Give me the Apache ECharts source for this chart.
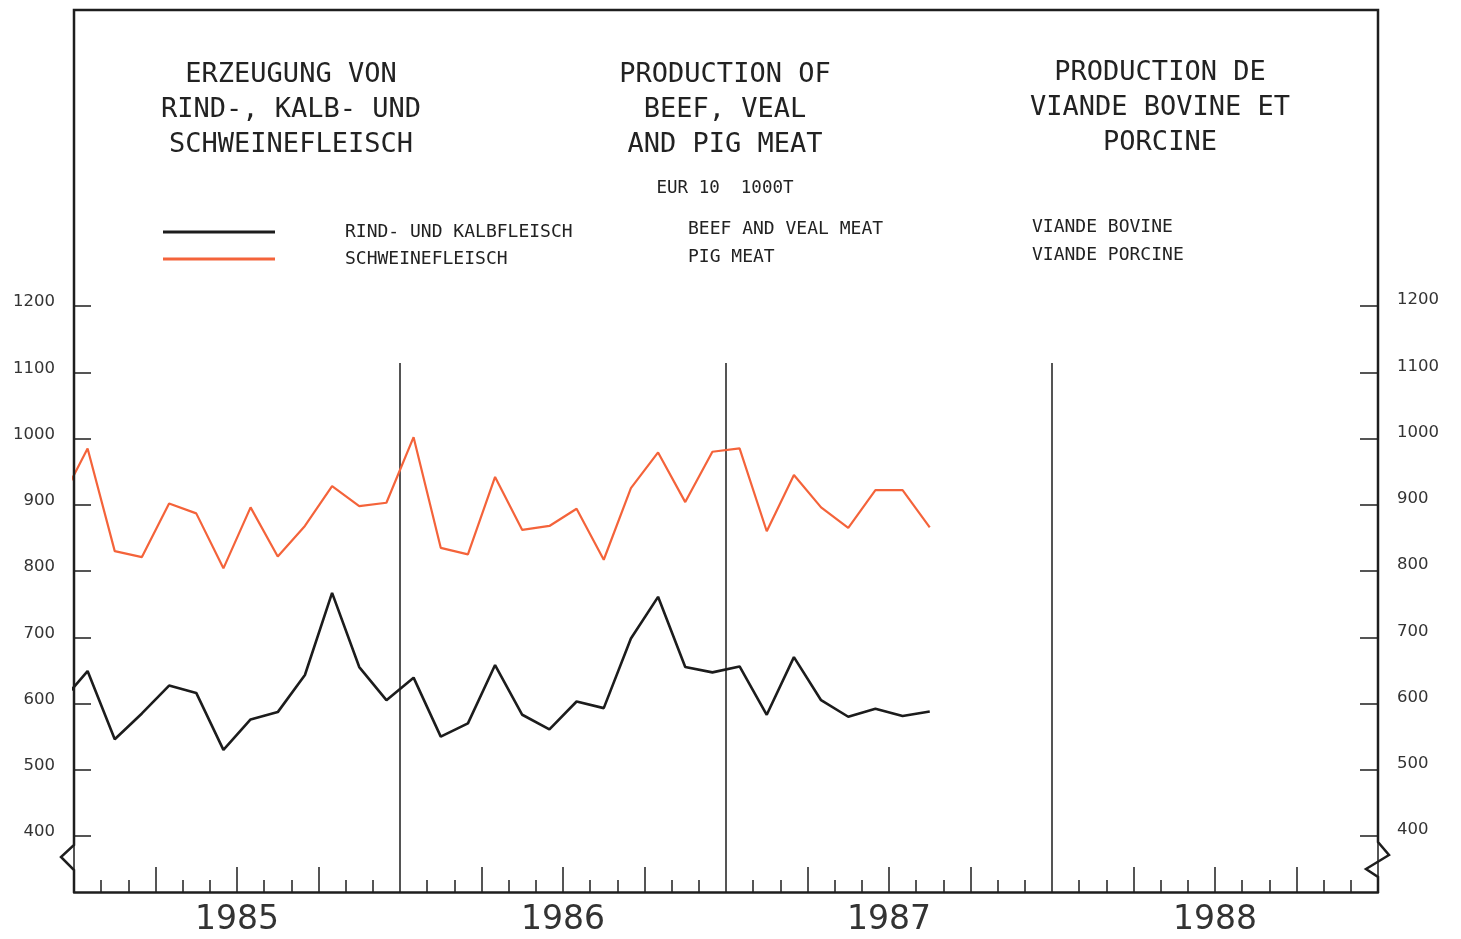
<!DOCTYPE html>
<html><head><meta charset="utf-8">
<script src="https://cdn.jsdelivr.net/npm/echarts@6/dist/echarts.min.js"></script>
<style>html,body{margin:0;padding:0;background:#fff}#c{width:1461px;height:939px}</style>
</head><body><div id="c"></div>
<script>
// Tick labels / categories
const years = ['1985', '1986', '1987', '1988'];
const yMin = 400, yMax = 1200, yStep = 100;
// Months counted from January 1985 (index 0); -1 = December 1984
const monthIndex = [-1, 0, 1, 2, 3, 4, 5, 6, 7, 8, 9, 10, 11,
  12, 13, 14, 15, 16, 17, 18, 19, 20, 21, 22, 23,
  24, 25, 26, 27, 28, 29, 30, 31];
// Series values (1000 t), EUR 10
const beef = [601, 649, 546, 585, 627, 616, 530, 576, 587, 643, 767, 655, 605,
  639, 550, 570, 658, 583, 561, 603, 593, 698, 761, 655, 647,
  656, 583, 670, 605, 580, 592, 581, 588];
const pig = [905, 985, 830, 821, 902, 887, 804, 896, 822, 868, 928, 898, 903,
  1002, 835, 825, 942, 862, 868, 894, 817, 925, 979, 904, 980,
  985, 860, 945, 896, 865, 922, 922, 866];

const MONO = 'DejaVu Sans Mono';
const INK = '#1e1e1e';
const chart = echarts.init(document.getElementById('c'));

const xBase = { type: 'value', min: 0, max: 48, gridIndex: 0, position: 'bottom',
  axisLabel: { show: false }, splitLine: { show: false }, axisLine: { show: false } };
const yLabel = (lh) => ({ margin: 19, fontFamily: 'DejaVu Sans', fontSize: 16.5, color: '#333',
  verticalAlign: 'bottom', lineHeight: lh, formatter: (v) => String(v) });

chart.setOption({
  backgroundColor: '#ffffff',
  animation: false,
  grid: [
    { left: 74, right: 83, top: 10, bottom: 47, containLabel: false },
    { left: 74, right: 83, top: 306, bottom: 103, containLabel: false }
  ],
  legend: {
    orient: 'vertical', left: 163, top: 222, itemWidth: 112, itemHeight: 3, itemGap: 7,
    icon: 'rect', padding: 0,
    textStyle: { fontFamily: MONO, fontSize: 18, color: '#222', lineHeight: 20, padding: [0, 0, 0, 65] },
    data: ['RIND- UND KALBFLEISCH', 'SCHWEINEFLEISCH']
  },
  xAxis: [
    Object.assign({}, xBase, { interval: 1, axisLine: { show: true, lineStyle: { color: INK, width: 2.5 } },
      axisTick: { show: true, inside: true, length: 12, lineStyle: { color: INK, width: 1.5 } } }),
    Object.assign({}, xBase, { interval: 3,
      axisTick: { show: true, inside: true, length: 25, lineStyle: { color: INK, width: 1.5 } } }),
    Object.assign({}, xBase, { interval: 12,
      axisTick: { show: true, inside: true, length: 529, lineStyle: { color: INK, width: 1.5 } } }),
    { type: 'category', data: years, boundaryGap: true, gridIndex: 0, position: 'bottom',
      axisLine: { show: false }, axisTick: { show: false }, splitLine: { show: false },
      axisLabel: { fontFamily: 'DejaVu Sans', fontSize: 33, color: '#333', margin: 12 } },
    Object.assign({}, xBase, { gridIndex: 1, axisTick: { show: false } })
  ],
  yAxis: [
    { type: 'value', gridIndex: 0, min: 0, max: 1, show: false },
    { type: 'value', gridIndex: 1, position: 'left', min: yMin, max: yMax, interval: yStep,
      axisLine: { show: false }, splitLine: { show: false },
      axisTick: { show: true, inside: true, length: 17, lineStyle: { color: INK, width: 1.5 } },
      axisLabel: yLabel(8) },
    { type: 'value', gridIndex: 1, position: 'right', min: yMin, max: yMax, interval: yStep,
      axisLine: { show: false }, splitLine: { show: false },
      axisTick: { show: true, inside: true, length: 18, lineStyle: { color: INK, width: 1.5 } },
      axisLabel: yLabel(12) }
  ],
  series: [
    { name: 'RIND- UND KALBFLEISCH', type: 'line', xAxisIndex: 4, yAxisIndex: 1, clip: true,
      showSymbol: false, symbol: 'none', color: '#1c1c1c',
      lineStyle: { color: '#1c1c1c', width: 2.6 },
      data: monthIndex.map((m, i) => [m + 0.5, beef[i]]) },
    { name: 'SCHWEINEFLEISCH', type: 'line', xAxisIndex: 4, yAxisIndex: 1, clip: true,
      showSymbol: false, symbol: 'none', color: '#f4633a',
      lineStyle: { color: '#f4633a', width: 2.2 },
      data: monthIndex.map((m, i) => [m + 0.5, pig[i]]) }
  ]
});

// Frame with axis-break zigzags, placed from the outer grid's coordinates
const tl = chart.convertToPixel({ xAxisIndex: 0, yAxisIndex: 0 }, [0, 1]);
const br = chart.convertToPixel({ xAxisIndex: 0, yAxisIndex: 0 }, [48, 0]);
const x0 = tl[0], yt = tl[1], x1 = br[0], yb = br[1];
function txt(text, x, y, size, align, lh) {
  return { type: 'text', z: 10, style: { text: text, x: x, y: y, fill: '#222',
    font: size + 'px "' + MONO + '"', fontFamily: MONO, fontSize: size,
    align: align, textAlign: align, verticalAlign: 'middle', textVerticalAlign: 'middle',
    lineHeight: lh || size * 1.2 } };
}
chart.setOption({
  graphic: [
    { type: 'polyline', z: 5, shape: { points: [
      [x0, yb], [x0, yb - 22], [x0 - 13, yb - 35], [x0, yb - 47], [x0, yt],
      [x1, yt], [x1, yb - 50], [x1 + 11, yb - 37], [x1 - 12, yb - 23], [x1, yb - 15], [x1, yb]] },
      style: { stroke: INK, lineWidth: 2.5, fill: null } },
    txt('ERZEUGUNG VON\nRIND-, KALB- UND\nSCHWEINEFLEISCH', 291, 110, 27, 'center', 35),
    txt('PRODUCTION OF\nBEEF, VEAL\nAND PIG MEAT', 725, 110, 27, 'center', 35),
    txt('PRODUCTION DE\nVIANDE BOVINE ET\nPORCINE', 1160, 108, 27, 'center', 35),
    txt('EUR 10  1000T', 725, 188, 17.5, 'center'),
    txt('BEEF AND VEAL MEAT', 688, 229, 18, 'left'),
    txt('PIG MEAT', 688, 257, 18, 'left'),
    txt('VIANDE BOVINE', 1032, 227, 18, 'left'),
    txt('VIANDE PORCINE', 1032, 255, 18, 'left')
  ]
});
</script></body></html>
